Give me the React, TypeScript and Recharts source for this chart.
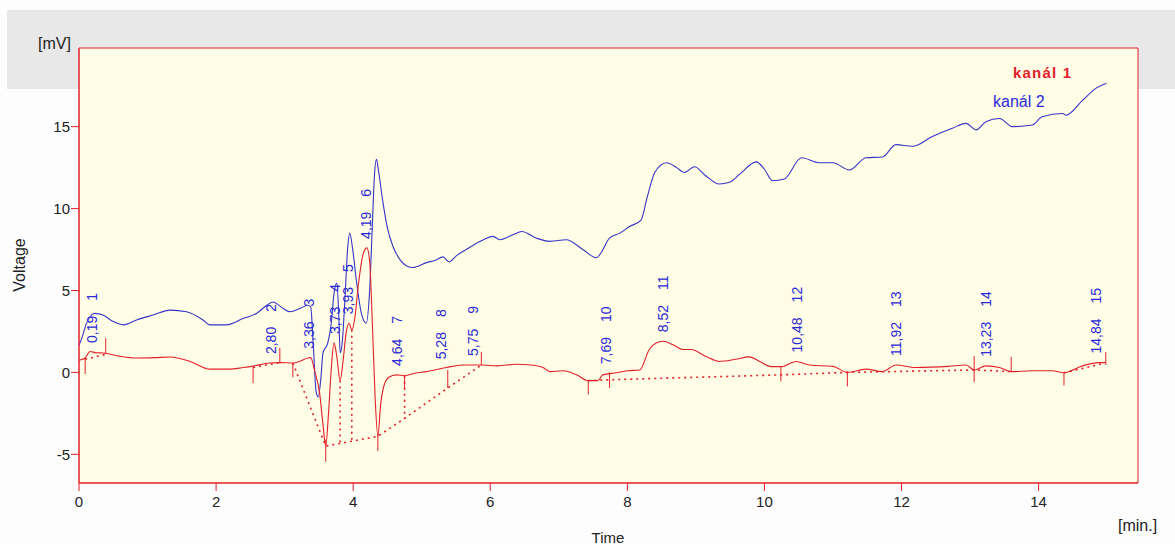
import {
  ComposedChart,
  Line,
  ReferenceArea,
  ReferenceLine,
  Scatter,
  XAxis,
  YAxis,
} from "recharts";

// kanál 1 (detector signal, red)
const ch1Time = [
  0.0, 0.05, 0.09, 0.16, 0.25, 0.35, 0.6, 0.84, 1.1, 1.33, 1.62, 1.91, 2.2, 2.4,
  2.52, 2.78, 2.93, 3.12, 3.22, 3.34, 3.38, 3.44, 3.51, 3.56, 3.6, 3.64, 3.68,
  3.72, 3.76, 3.81, 3.85, 3.9, 3.94, 3.98, 4.02, 4.08, 4.15, 4.2, 4.24, 4.28,
  4.32, 4.36, 4.4, 4.45, 4.52, 4.63, 4.75, 4.9, 5.07, 5.36, 5.6, 5.89, 6.1,
  6.38, 6.6, 6.77, 6.87, 7.06, 7.26, 7.43, 7.57, 7.64, 7.84, 8.0, 8.18, 8.32,
  8.42, 8.52, 8.66, 8.81, 8.93, 9.15, 9.34, 9.58, 9.78, 9.93, 10.1, 10.25,
  10.46, 10.66, 11.0, 11.21, 11.48, 11.72, 11.92, 12.2, 12.69, 12.94, 13.06,
  13.23, 13.43, 13.6, 13.91, 14.2, 14.37, 14.64, 14.88, 14.98,
];
const ch1Volts = [
  0.75, 0.8, 0.88, 1.28, 1.2, 1.18, 0.98, 0.88, 0.9, 0.94, 0.67, 0.2, 0.2, 0.3,
  0.37, 0.57, 0.6, 0.57, 0.67, 0.88, 0.9, 0.06, -1.25, -3.2, -4.5, -2.5, 0.2,
  1.8, 1.0, -0.5, 0.6, 2.5, 3.0, 2.6, 3.2, 5.5, 7.3, 7.6, 6.8, 3.0, -1.5, -3.9,
  -2.0, -0.8, -0.3, -0.15, -0.2, -0.05, 0.05, 0.3, 0.45, 0.45, 0.4, 0.5, 0.45,
  0.3, 0.05, 0.1, -0.15, -0.5, -0.5, -0.15, -0.02, 0.1, 0.15, 1.4, 1.8, 1.9,
  1.7, 1.4, 1.4, 0.97, 0.67, 0.8, 0.95, 0.67, 0.35, 0.35, 0.67, 0.45, 0.37, 0.0,
  0.2, 0.05, 0.45, 0.3, 0.37, 0.45, 0.15, 0.4, 0.3, 0.05, 0.1, 0.1, -0.02, 0.4,
  0.6, 0.6,
];

// kanál 2 (blue)
const ch2Time = [
  0.0, 0.05, 0.1, 0.16, 0.23, 0.35, 0.5, 0.65, 0.84, 1.08, 1.33, 1.57, 1.81,
  1.91, 2.15, 2.4, 2.59, 2.74, 2.83, 2.98, 3.08, 3.22, 3.34, 3.38, 3.42, 3.46,
  3.49, 3.53, 3.56, 3.63, 3.68, 3.72, 3.76, 3.79, 3.81, 3.84, 3.88, 3.92, 3.95,
  3.99, 4.05, 4.12, 4.19, 4.24, 4.28, 4.31, 4.34, 4.37, 4.43, 4.5, 4.58, 4.68,
  4.78, 4.87, 5.07, 5.2, 5.31, 5.4, 5.5, 5.65, 5.9, 6.04, 6.14, 6.33, 6.46,
  6.67, 6.87, 7.11, 7.35, 7.55, 7.6, 7.74, 7.89, 8.03, 8.2, 8.29, 8.4, 8.57,
  8.72, 8.83, 8.98, 9.13, 9.34, 9.49, 9.64, 9.88, 10.0, 10.12, 10.29, 10.54,
  10.8, 11.0, 11.24, 11.48, 11.72, 11.92, 12.16, 12.45, 12.74, 12.94, 13.09,
  13.23, 13.43, 13.62, 13.91, 14.05, 14.35, 14.4, 14.64, 14.84, 14.99,
];
const ch2Volts = [
  1.65, 2.2, 2.9, 3.4, 3.6, 3.5, 3.1, 2.9, 3.2, 3.5, 3.8, 3.7, 3.2, 2.9, 2.9,
  3.3, 3.6, 4.1, 4.3, 3.9, 3.7, 3.9, 4.1, 4.0, 1.5, -1.2, -1.5, -0.3, 1.2, 1.8,
  3.0, 4.8, 5.45, 3.5, 1.2, 1.8, 4.5, 7.6, 8.5, 7.6, 5.5, 3.6, 3.0, 5.0, 9.0,
  12.0, 13.0, 12.3, 10.5, 8.8, 7.7, 6.9, 6.5, 6.4, 6.7, 6.85, 7.05, 6.75, 7.1,
  7.5, 8.1, 8.3, 8.1, 8.4, 8.6, 8.2, 8.0, 8.1, 7.5, 7.0, 7.2, 8.2, 8.5, 8.9,
  9.3, 10.7, 12.2, 12.8, 12.5, 12.2, 12.55, 12.05, 11.5, 11.6, 12.1, 12.85,
  12.4, 11.7, 11.8, 13.1, 12.8, 12.8, 12.35, 13.1, 13.15, 13.9, 13.8, 14.4,
  14.9, 15.2, 14.8, 15.3, 15.5, 15.0, 15.1, 15.6, 15.8, 15.7, 16.6, 17.35,
  17.65,
];

// integration baselines, each a list of [time, mV]
const baselines: [number, number][][] = [
  [[0.09, 0.8], [0.39, 1.1]],
  [[2.54, 0.3], [2.93, 0.6]],
  [[3.12, 0.57], [3.6, -4.5], [4.36, -3.9], [4.75, -2.8], [5.38, -0.95], [5.87, 0.45]],
  [[3.81, -0.5], [3.81, -4.33]],
  [[3.98, 2.6], [3.98, -4.2]],
  [[4.75, -0.2], [4.75, -2.8]],
  [[7.43, -0.5], [7.74, -0.45], [10.24, -0.15], [11.21, 0.0], [13.06, 0.15], [13.6, 0.05]],
  [[14.37, -0.02], [14.95, 0.55]],
];

// peak start/end ticks: [time, from mV, to mV]
const peakTicks: [number, number, number][] = [
  [0.09, 0.88, -0.1], [0.39, 1.15, 2.1], [2.54, 0.35, -0.65], [2.93, 0.6, 1.5],
  [3.12, 0.57, -0.3], [3.6, -4.1, -5.45], [4.36, -3.7, -4.8], [4.75, -0.2, -1.05],
  [5.38, 0.15, -0.95], [5.87, 0.45, 1.25], [7.43, -0.5, -1.35], [7.74, 0.0, -0.95],
  [10.24, 0.35, -0.55], [11.21, 0.05, -0.85], [13.06, 1.0, -0.6], [13.6, 0.05, 0.95],
  [14.37, 0.0, -0.8], [14.98, 0.45, 1.25],
];

// peaks: number, retention time, signal at apex
const peakNumbers = [1, 2, 3, 4, 5, 6, 7, 8, 9, 10, 11, 12, 13, 14, 15];
const peakTimes = [0.19, 2.8, 3.36, 3.73, 3.93, 4.19, 4.64, 5.28, 5.75, 7.69, 8.52, 10.48, 11.92, 13.23, 14.84];
const peakApex = [1.25, 0.57, 0.9, 1.8, 3.0, 7.6, -0.15, 0.25, 0.45, -0.05, 1.9, 0.67, 0.45, 0.4, 0.6];

const xTicks = [0, 2, 4, 6, 8, 10, 12, 14];
const yTicks = [-5, 0, 5, 10, 15];
const seriesNames = ["kanál 1", "kanál 2"];

const X_MAX = 15.45;
const Y_MIN = -6.75;
const Y_MAX = 19.8;

const RED = "#e3202a";
const BLUE = "#3535c8";
const LABEL_BLUE = "#2a2ad6";
const FONT = '"Liberation Sans", Arial, sans-serif';

const ch1 = ch1Time.map((t, i) => ({ t, v: ch1Volts[i] }));
const ch2 = ch2Time.map((t, i) => ({ t, v: ch2Volts[i] }));
const peaks = peakNumbers.map((n, i) => ({
  n,
  t: peakTimes[i],
  v: peakApex[i],
  rt: peakTimes[i].toFixed(2).replace(".", ","),
}));

const PeakLabel = (props: any) => {
  const { cx, cy, payload } = props;
  if (cx == null || cy == null) return null;
  const y = cy - 9;
  return (
    <text
      x={cx}
      y={y}
      transform={`rotate(-90 ${cx} ${y})`}
      dy="0.36em"
      fill={LABEL_BLUE}
      fontSize={14}
      fontFamily={FONT}
    >
      {payload.rt}
      <tspan dx={15}>{payload.n}</tspan>
    </text>
  );
};

const textStyle = {
  position: "absolute" as const,
  fontFamily: FONT,
  color: "#222",
  whiteSpace: "nowrap" as const,
  lineHeight: 1,
};

export default function App() {
  return (
    <div
      style={{
        position: "absolute",
        left: 0,
        top: 0,
        width: 1175,
        height: 544,
        background: "#fdfdfd",
        overflow: "hidden",
      }}
    >
      <div
        style={{
          position: "absolute",
          left: 7,
          top: 10,
          width: 1168,
          height: 79,
          background: "#e8e8e8",
        }}
      />
      <ComposedChart
        width={1175}
        height={544}
        margin={{ top: 48, right: 37, bottom: 0, left: 0 }}
        style={{ position: "absolute", left: 0, top: 0 }}
      >
        <ReferenceArea
          x1={0}
          x2={X_MAX}
          y1={Y_MIN}
          y2={Y_MAX}
          fill="#fffde6"
          fillOpacity={1}
          stroke={RED}
          strokeWidth={1}
        />
        <XAxis
          dataKey="t"
          type="number"
          domain={[0, X_MAX]}
          ticks={xTicks}
          allowDataOverflow
          height={61}
          tickSize={8}
          tickMargin={5}
          axisLine={{ stroke: RED }}
          tickLine={{ stroke: RED }}
          tick={{ fill: "#222", fontSize: 15, fontFamily: FONT }}
        />
        <YAxis
          type="number"
          domain={[Y_MIN, Y_MAX]}
          ticks={yTicks}
          allowDataOverflow
          width={79}
          tickSize={8}
          tickMargin={1}
          axisLine={{ stroke: RED }}
          tickLine={{ stroke: RED }}
          tick={{ fill: "#222", fontSize: 15, fontFamily: FONT }}
        />
        {baselines.map((seg, i) => (
          <Line
            key={`base-${i}`}
            data={seg.map(([t, v]) => ({ t, v }))}
            dataKey="v"
            type="linear"
            stroke={RED}
            strokeWidth={1.6}
            strokeDasharray="2 4"
            dot={false}
            activeDot={false}
            isAnimationActive={false}
          />
        ))}
        {peakTicks.map(([t, a, b], i) => (
          <ReferenceLine
            key={`tick-${i}`}
            segment={[
              { x: t, y: a },
              { x: t, y: b },
            ]}
            stroke={RED}
            strokeWidth={1}
          />
        ))}
        <Line
          data={ch2}
          dataKey="v"
          name={seriesNames[1]}
          type="monotone"
          stroke={BLUE}
          strokeWidth={1.1}
          dot={false}
          activeDot={false}
          isAnimationActive={false}
        />
        <Line
          data={ch1}
          dataKey="v"
          name={seriesNames[0]}
          type="monotone"
          stroke={RED}
          strokeWidth={1.1}
          dot={false}
          activeDot={false}
          isAnimationActive={false}
        />
        <Scatter
          data={peaks}
          dataKey="v"
          shape={PeakLabel}
          isAnimationActive={false}
        />
      </ComposedChart>

      <div style={{ ...textStyle, left: 38, top: 36, fontSize: 16 }}>[mV]</div>
      <div
        style={{
          ...textStyle,
          left: 20,
          top: 265,
          fontSize: 16,
          transform: "translate(-50%, -50%) rotate(-90deg)",
        }}
      >
        Voltage
      </div>
      <div
        style={{
          ...textStyle,
          left: 608,
          top: 537,
          fontSize: 15,
          transform: "translate(-50%, -50%)",
        }}
      >
        Time
      </div>
      <div style={{ ...textStyle, left: 1118, top: 518, fontSize: 16 }}>[min.]</div>
      <div
        style={{
          ...textStyle,
          left: 1013,
          top: 65,
          fontSize: 15,
          fontWeight: "bold",
          letterSpacing: 1.2,
          color: RED,
        }}
      >
        {seriesNames[0]}
      </div>
      <div style={{ ...textStyle, left: 993, top: 94, fontSize: 16, color: LABEL_BLUE }}>
        {seriesNames[1]}
      </div>
    </div>
  );
}
